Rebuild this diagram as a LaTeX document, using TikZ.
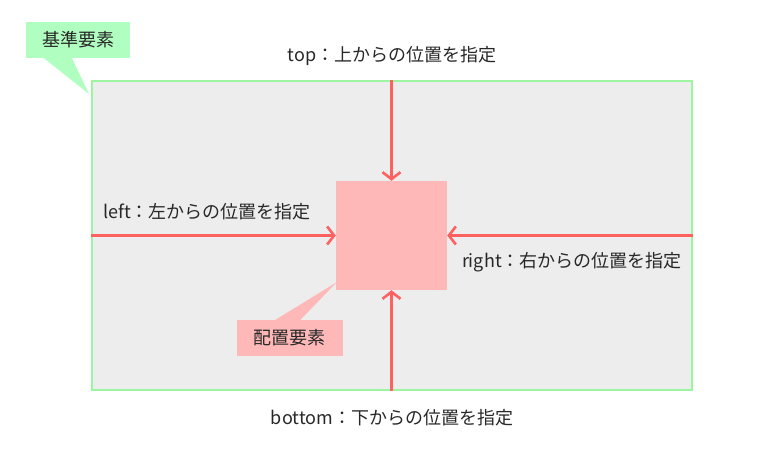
\documentclass[tikz,border=0pt]{standalone}
\usepackage{fontspec}
\setmainfont{Noto Sans CJK JP}
\usepackage{tikz}
\usetikzlibrary{
  arrows.meta,%
  calc,%
  positioning
}
\definecolor{framegreen}{RGB}{156, 245, 160}
\definecolor{notegreen}{RGB}{176, 255, 192}
\definecolor{basegray}{RGB}{237, 237, 237}
\definecolor{targetpink}{RGB}{255, 184, 184}
\definecolor{arrowred}{RGB}{255, 96, 96}
\definecolor{textgray}{RGB}{40, 40, 40}
\tikzset{font=\fontsize{18pt}{21pt}\selectfont, text=textgray}
\tikzset{
  basebox/.style={draw=framegreen, fill=basegray, line width=2pt, inner sep=0pt},
  targetbox/.style={fill=targetpink, inner sep=0pt},
  posarrow/.style={draw=arrowred, line width=3pt,
    -{Straight Barb[length=7pt, width=18pt, line width=2.6pt]}},
  basenote/.style={fill=notegreen, minimum width=104pt, minimum height=36pt, inner sep=0pt},
  targetnote/.style={fill=targetpink, minimum width=106pt, minimum height=36pt, inner sep=0pt},
  poslabel/.style={inner sep=0pt}
}

\begin{document}
\begin{tikzpicture}[x=1pt, y=-1pt]
                \useasboundingbox (0, 0) rectangle (769, 449);%
                % reference element and placed element
                \node[basebox, minimum width=600pt, minimum height=309pt] (base) at (392, 235.5) {};%
                \node[targetbox, minimum width=111pt, minimum height=109pt] (target) at (391.5, 235.5) {};%
                % arrows from each side
                \draw[posarrow] (base.north -| target.north) -- (target.north);%
                \draw[posarrow] (base.south -| target.south) -- (target.south);%
                \draw[posarrow] (base.west |- target.west) -- (target.west);%
                \draw[posarrow] (base.east |- target.east) -- (target.east);%
                % labels
                \node[poslabel, above=14pt of base] (toplbl) {top：上からの位置を指定};%
                \node[poslabel, below=18pt of base] (bottomlbl) {bottom：下からの位置を指定};%
                \node[poslabel, anchor=west] (leftlbl) at ($(base.west)+(12, -24)$) {left：左からの位置を指定};%
                \node[poslabel, anchor=east] (rightlbl) at ($(base.east)+(-11, 27)$) {right：右からの位置を指定};%
                % callouts
                \node[basenote] (basenote) at (78, 40) {基準要素};%
                \coordinate (basetip) at ($(base.north west)+(-2, 14)$);%
                \fill[notegreen] ($(basenote.south)+(-34, 0)$) -- ($(basenote.south)+(-6, 0)$) -- (basetip) -- cycle;%
                \node[targetnote] (targetnote) at (289.5, 338) {配置要素};%
                \coordinate (targettip) at ($(target.south west)+(1, -8)$);%
                \fill[targetpink] ($(targetnote.north)+(-14, 0)$) -- ($(targetnote.north)+(11, 0)$) -- (targettip) -- cycle;%
              \end{tikzpicture}
\end{document}
